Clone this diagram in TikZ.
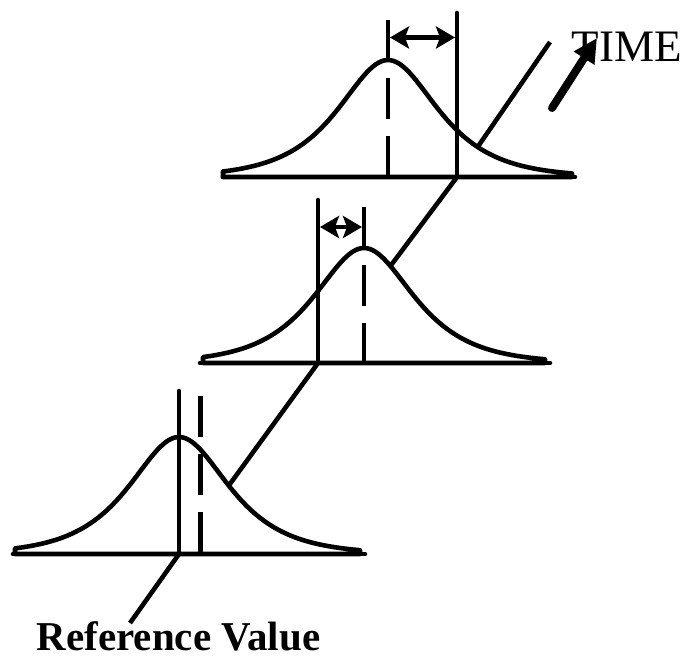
\documentclass[tikz,border=0pt]{standalone}
\usepackage{fontspec}
\setmainfont{Liberation Serif}
\usetikzlibrary{arrows.meta}
\begin{document}
\begin{tikzpicture}[x=1pt,y=-1pt,
  ln/.style={line width=4.6pt, line cap=round},
  bell/.style={line width=4.6pt, fill=white, line join=round},
  dsh/.style={line width=4.6pt, dash pattern=on 41pt off 17pt},
  dbl/.style={line width=4.6pt, {Stealth[length=19pt 0 0,width=22pt 0 0,inset=4pt]}-{Stealth[length=19pt 0 0,width=22pt 0 0,inset=4pt]}},
  timearrow/.style={line width=8pt, line cap=round, -{Triangle[length=24pt 0 0,width=23pt 0 0]}},
  lbl/.style={inner sep=0pt, anchor=base}
]
\useasboundingbox (0,0) rectangle (685,659);

% key points
\coordinate (ptr) at (130,623);
\coordinate (bref) at (179,554);
\coordinate (mref) at (318,363);
\coordinate (tref) at (457,177);
\coordinate (tend) at (550,42);

% diagonal time axis (drawn first, hidden behind the bells)
\draw[ln, line cap=butt] (ptr) -- (bref) -- (mref) -- (tref) -- (tend);

% bells
\draw[bell] (223,177) -- plot[domain=-165:184, samples=120] ({388+\x},{177-117/cosh(\x/44)}) -- (572,177) -- cycle;
\draw[bell] (203,363) -- plot[domain=-161:181, samples=120] ({364+\x},{363-115/cosh(\x/44)}) -- (545,363) -- cycle;
\draw[bell] (15,554) -- plot[domain=-164:181, samples=120] ({179+\x},{554-117/cosh(\x/44)}) -- (360,554) -- cycle;

% baselines
\coordinate (tl) at (223,177); \coordinate (tr) at (575,177);
\coordinate (ml) at (200,363); \coordinate (mr) at (550,363);
\coordinate (bl) at (13,554);  \coordinate (br) at (365,554);
\draw[ln] (tl) -- (tr);
\draw[ln] (ml) -- (mr);
\draw[ln] (bl) -- (br);

% vertical lines
\coordinate (tdtop) at (388,20); \coordinate (tdbot) at (388,177);
\coordinate (tstop) at (457,13);
\draw[dsh] (tdtop) -- (tdbot);
\draw[ln] (tstop) -- (tref);

\coordinate (mstop) at (318,200);
\coordinate (mdtop) at (364,207); \coordinate (mdbot) at (364,363);
\draw[ln] (mstop) -- (mref);
\draw[dsh] (mdtop) -- (mdbot);

\coordinate (bstop) at (179,391);
\coordinate (bdtop) at (200.5,396); \coordinate (bdbot) at (200.5,554);
\draw[ln] (bstop) -- (bref);
\draw[dsh] (bdtop) -- (bdbot);

% double arrows
\coordinate (ta1) at (390,37.5); \coordinate (ta2) at (455,37.5);
\draw[dbl] (ta1) -- (ta2);
\coordinate (ma1) at (320,227); \coordinate (ma2) at (362,227);
\draw[dbl] (ma1) -- (ma2);

% labels
\node[lbl, font=\fontsize{45}{50}\selectfont] (time) at (626.5,61) {TIME};
\node[lbl, font=\bfseries\fontsize{41}{46}\selectfont] (refval) at (178.5,650) {Reference Value};

% time arrow
\coordinate (tastart) at (552,108);
\coordinate (tatip) at (597,38);
\draw[timearrow] (tastart) -- (tatip);
\end{tikzpicture}
\end{document}
